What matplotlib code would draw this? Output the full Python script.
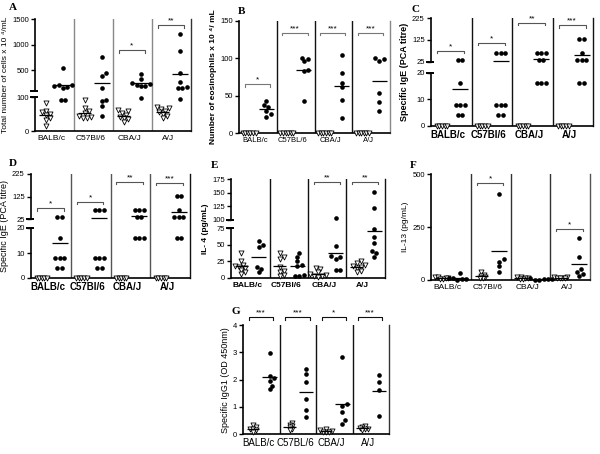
import numpy as np
import matplotlib
matplotlib.use('Agg')
import matplotlib.pyplot as plt

plt.rcParams['font.family'] = ['Liberation Sans', 'DejaVu Sans']

# ---------------- data ----------------
strains_1 = ['BALB/c', 'C57Bl/6', 'CBA/J', 'A/J']
strains_2 = ['BALB/c', 'C57BL/6', 'CBA/J', 'A/J']

A_ctrl = [[83, 59, 55, 50, 47, 37, 32, 15], [91, 67, 60, 52, 45, 42, 38, 37],
          [62, 58, 54, 48, 42, 38, 34, 27], [70, 68, 65, 60, 55, 50, 45, 37]]
A_ova = [[534, 215, 200, 190, 175, 150, 91, 90], [760, 436, 383, 143, 91, 88, 74, 44],
         [420, 330, 250, 225, 210, 195, 180, 96], [1200, 870, 440, 270, 165, 155, 145, 95]]
A_ticks = [0, 100, 500, 1000, 1500]

B_ctrl = [[0] * 6, [0] * 6, [0] * 6, [0] * 6]
B_ova = [[43, 37, 35, 30, 25, 22], [101, 99, 96, 85, 83, 43],
         [104, 81, 67, 61, 44, 20], [100, 99, 97, 54, 41, 30]]
B_ticks = [0, 50, 100, 150]

C_ctrl = [[0] * 5, [0] * 5, [0] * 5, [0] * 5]
C_ova = [[32, 32, 16, 8, 8, 8, 4, 4], [64, 64, 64, 8, 8, 8, 4, 4],
         [64, 64, 64, 32, 32, 16, 16, 16], [128, 128, 64, 32, 32, 32, 16, 16]]
CD_ticks = [0, 10, 20, 25, 125, 225]
D_ctrl = [[0] * 5, [0] * 5, [0] * 5, [0] * 5]
D_ova = [[32, 32, 16, 8, 8, 8, 4, 4], [64, 64, 64, 8, 8, 8, 4, 4],
         [64, 64, 64, 32, 32, 16, 16, 16], [128, 128, 64, 32, 32, 32, 16, 16]]

E_ctrl = [[38, 25, 20, 18, 17, 15, 12, 8, 5], [38, 31, 29, 17, 10, 9, 4, 3],
          [14, 13, 8, 6, 4, 3, 2, 1], [25, 22, 20, 18, 17, 15, 10, 8]]
E_ova = [[56, 50, 47, 17, 13, 8], [38, 32, 25, 20, 18, 4, 2, 2],
         [103, 48, 33, 31, 29, 12, 11], [152, 122, 74, 62, 52, 40, 37, 31]]
E_ticks = [0, 25, 50, 75, 100, 125, 150, 175]

F_ctrl = [[15, 12, 10, 8, 6, 5], [38, 25, 20, 15, 10, 8],
          [15, 12, 10, 8, 5, 3], [15, 12, 10, 10, 8, 8]]
F_ova = [[35, 10, 8, 5, 3, 2], [405, 100, 85, 65, 40],
         [8, 6, 5, 3, 2, 2], [200, 110, 50, 38, 30, 20]]
F_ticks = [0, 250, 500]

G_ctrl = [[0.35, 0.25, 0.2, 0.2, 0.15, 0.1], [0.4, 0.35, 0.3, 0.25, 0.2, 0.15],
          [0.2, 0.15, 0.12, 0.1, 0.1, 0.08], [0.3, 0.25, 0.22, 0.2, 0.18, 0.15]]
G_ova = [[2.97, 2.15, 2.05, 1.95, 1.78, 1.65], [2.38, 2.22, 1.93, 1.28, 0.9, 0.65],
         [2.84, 1.12, 1.05, 0.82, 0.52, 0.38], [2.17, 1.93, 1.63, 0.67]]
G_ticks = [0, 1, 2, 3, 4]

# ---------------- helpers ----------------
W, H = 600, 454
fig = plt.figure(figsize=(6, 4.54), dpi=100)


def pw(xp, fp):
    xp = np.asarray(xp, float)
    fp = np.asarray(fp, float)

    def make(a, b):
        s0 = (b[1] - b[0]) / (a[1] - a[0])
        s1 = (b[-1] - b[-2]) / (a[-1] - a[-2])

        def f(v):
            v = np.asarray(v, float)
            out = np.interp(v, a, b)
            out = np.where(v < a[0], b[0] + (v - a[0]) * s0, out)
            out = np.where(v > a[-1], b[-1] + (v - a[-1]) * s1, out)
            return out
        return f
    return make(xp, fp), make(fp, xp)


def swarm_offsets(ax, x0, vals, d):
    """Beeswarm-like horizontal offsets (pixels); ties are centred in a row."""
    vals = np.asarray(vals, float)
    n = len(vals)
    ypx = ax.transData.transform(np.column_stack([np.full(n, x0), vals]))[:, 1]
    order = list(np.argsort(ypx, kind='stable'))
    offs = np.zeros(n)
    placed = []
    cands = [0.0]
    for k in range(1, 30):
        cands += [k * d / 2, -k * d / 2]
    i = 0
    while i < n:
        grp = [order[i]]
        j = i + 1
        while j < n and abs(ypx[order[j]] - ypx[order[i]]) < 0.6:
            grp.append(order[j])
            j += 1
        m = len(grp)
        for c in cands:
            trial = [c + (k - (m - 1) / 2) * d for k in range(m)]
            ok = True
            for t, idx in zip(trial, grp):
                for (po, py) in placed:
                    if (t - po) ** 2 + (ypx[idx] - py) ** 2 < (0.9 * d) ** 2:
                        ok = False
                        break
                if not ok:
                    break
            if ok:
                for t, idx in zip(trial, grp):
                    offs[idx] = t
                    placed.append((t, ypx[idx]))
                break
        i = j
    return offs


def panel(letter, box, ylim, ticks, ctrl, ova, labels, ylabel, brackets,
          scale=None, brk=None, ylab_w='normal', ylab_fs=6, cat_w='normal', cat_fs=6,
          sep_col='#444444', right_col='#444444', ylabel_pad=2, letter_xy=None,
          tri_d=2.6, dot_d=4.4):
    x0, x1, yt, yb = box
    ax = fig.add_axes([x0 / W, 1 - yb / H, (x1 - x0) / W, (yb - yt) / H])
    if scale is not None:
        ax.set_yscale('function', functions=scale)
    ax.set_xlim(0, 4)
    ax.set_ylim(*ylim)
    ax.set_yticks(ticks)
    ax.set_yticklabels([str(t) for t in ticks], fontsize=5.5)
    ax.set_xticks(np.arange(4) + 0.42)
    ax.set_xticklabels(labels, fontsize=cat_fs, fontweight=cat_w)
    ax.tick_params(axis='x', length=0, pad=3)
    ax.tick_params(axis='y', length=3, width=1, pad=1.5, direction='out')
    ax.spines['top'].set_visible(False)
    ax.spines['bottom'].set_linewidth(1.2)
    ax.spines['right'].set_color(right_col)
    ax.spines['right'].set_linewidth(1.0)
    ax.spines['left'].set_linewidth(1.2)
    for g in range(1, 4):
        ax.axvline(g, color=sep_col, lw=1.0)
    wpx = x1 - x0
    ppu = wpx / 4.0
    if brk is not None:
        ax.spines['left'].set_visible(False)
        lo, hi = brk
        tr = ax.get_yaxis_transform()
        ax.plot([0, 0], [ylim[0], lo], color='black', lw=1.2, transform=tr, clip_on=False)
        ax.plot([0, 0], [hi, ylim[1]], color='black', lw=1.2, transform=tr, clip_on=False)
        for v in (lo, hi):
            ax.plot([-5 / wpx, 3 / wpx], [v, v], color='black', lw=1.4,
                    transform=tr, clip_on=False, solid_capstyle='butt')
    for g in range(4):
        xc, xo = g + 0.27, g + 0.72
        if len(ctrl[g]):
            off = swarm_offsets(ax, xc, ctrl[g], tri_d) / ppu
            ax.scatter(xc + off, ctrl[g], s=13, marker='v', facecolors='white',
                       edgecolors='black', linewidths=0.6, zorder=3, clip_on=False)
            ax.hlines(np.mean(ctrl[g]), xc - 0.17, xc + 0.17, color='black', lw=0.9, zorder=4)
        off = swarm_offsets(ax, xo, ova[g], dot_d) / ppu
        ax.scatter(xo + off, ova[g], s=11, marker='o', color='black', linewidths=0,
                   zorder=3, clip_on=False)
        ax.hlines(np.mean(ova[g]), xo - 0.2, xo + 0.2, color='black', lw=0.9, zorder=4)
    tr = ax.get_xaxis_transform()
    for g, yf, stars, col in brackets:
        a, b = g + 0.15, g + 0.82
        dh = 2.5 / (yb - yt)
        ax.plot([a, a, b, b], [yf - dh, yf, yf, yf - dh], color=col, lw=0.8,
                transform=tr, clip_on=False)
        ax.text((a + b) / 2, yf + 0.5 / (yb - yt), stars, ha='center', va='bottom',
                fontsize=6, transform=tr)
    ax.set_ylabel(ylabel, fontsize=ylab_fs, fontweight=ylab_w, labelpad=ylabel_pad)
    if letter_xy is not None:
        fig.text(letter_xy[0] / W, 1 - letter_xy[1] / H, letter, fontsize=8,
                 fontweight='bold', family=['Liberation Serif', 'DejaVu Serif'],
                 ha='center', va='center')
    return ax


# ---------------- panels ----------------
panel('A', (35, 191, 19, 131), (0, 1500), A_ticks, A_ctrl, A_ova, strains_1,
      'Total number of cells x 10 \u2074/mL',
      [(2, 0.723, '*', '#555555'), (3, 0.946, '**', '#555555')],
      scale=pw([0, 100, 101, 1500], [0, 34, 40.5, 112]), brk=(100, 101),
      sep_col='#888888', right_col='#333333', letter_xy=(13, 7), tri_d=4.0)

panel('B', (239, 390, 21, 133), (0, 150), B_ticks, B_ctrl, B_ova, strains_2,
      'Number of eosinophils x 10 \u2074/ mL',
      [(0, 0.435, '*', '#777777'), (1, 0.896, '***', '#777777'),
       (2, 0.896, '***', '#777777'), (3, 0.896, '***', '#777777')],
      ylab_w='bold', cat_fs=5.5, sep_col='#111111', right_col='#888888',
      letter_xy=(242, 12))

panel('C', (431, 593, 18, 125.7), (0, 225), CD_ticks, C_ctrl, C_ova, strains_1,
      'Specific IgE (PCA titre)',
      [(0, 0.696, '*', '#555555'), (1, 0.771, '*', '#555555'),
       (2, 0.956, '**', '#555555'), (3, 0.935, '***', '#555555')],
      scale=pw([0, 20, 25, 225], [0, 53, 64, 107.7]), brk=(20, 25),
      ylab_w='bold', ylab_fs=6.5, cat_w='bold', cat_fs=7, sep_col='#111111',
      right_col='#111111', letter_xy=(415, 10))

panel('D', (31, 190, 174, 278), (0, 225), CD_ticks, D_ctrl, D_ova, strains_1,
      'Specific IgE (PCA titre)',
      [(0, 0.67, '*', '#555555'), (1, 0.734, '*', '#555555'),
       (2, 0.926, '**', '#555555'), (3, 0.916, '***', '#555555')],
      scale=pw([0, 20, 25, 225], [0, 50, 59, 104]), brk=(20, 25),
      ylab_w='normal', ylab_fs=6.5, cat_w='bold', cat_fs=7, sep_col='#555555',
      right_col='#111111', letter_xy=(13, 163))

panel('E', (231, 385, 179, 277.7), (0, 175), E_ticks, E_ctrl, E_ova, strains_1,
      'IL- 4 (pg/mL)',
      [(2, 0.973, '**', '#555555'), (3, 0.973, '**', '#555555')],
      scale=pw([0, 75, 100, 175], [0, 49.4, 57.7, 98.7]), brk=(75, 100),
      ylab_w='bold', cat_w='bold', cat_fs=6, sep_col='#111111', right_col='#111111',
      letter_xy=(215, 165), tri_d=4.0)

panel('F', (431, 590, 174.3, 280), (0, 500), F_ticks, F_ctrl, F_ova, strains_1,
      'IL-13 (pg/mL)',
      [(1, 0.918, '*', '#555555'), (3, 0.483, '*', '#555555')],
      sep_col='#333333', right_col='#555555', letter_xy=(413, 165))

panel('G', (243.3, 389, 325, 434.3), (0, 4), G_ticks, G_ctrl, G_ova, strains_2,
      'Specific IgG1 (OD 450nm)',
      [(0, 1.07, '***', '#111111'), (1, 1.07, '***', '#111111'),
       (2, 1.07, '*', '#111111'), (3, 1.07, '***', '#111111')],
      ylab_fs=6.5, cat_fs=7, sep_col='#111111', right_col='#333333',
      letter_xy=(236, 311), tri_d=2.8)

fig.savefig('out.png', dpi=100)
